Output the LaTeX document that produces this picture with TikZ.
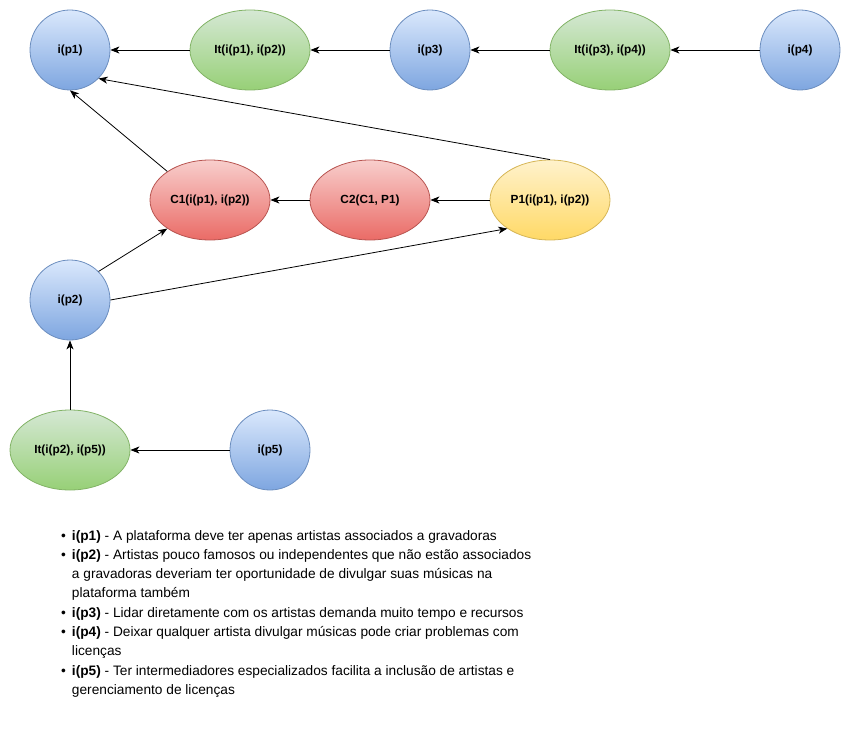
\documentclass[tikz,border=0pt]{standalone}
\usepackage{fontspec}
\setmainfont{Liberation Sans}
\usetikzlibrary{shapes.geometric,arrows.meta}

% fill and line colours of the nodes
\definecolor{bluetop}{HTML}{DAE8FC}
\definecolor{bluebot}{HTML}{7EA6E0}
\definecolor{blueline}{HTML}{6C8EBF}
\definecolor{greentop}{HTML}{D5E8D4}
\definecolor{greenbot}{HTML}{97D077}
\definecolor{greenline}{HTML}{82B366}
\definecolor{redtop}{HTML}{F8CECC}
\definecolor{redbot}{HTML}{EA6B66}
\definecolor{redline}{HTML}{B85450}
\definecolor{yellowtop}{HTML}{FFF2CC}
\definecolor{yellowbot}{HTML}{FFD966}
\definecolor{yellowline}{HTML}{D6B656}

\begin{document}
\begin{tikzpicture}[x=1pt,y=-1pt,
  label font/.style={font=\bfseries\fontsize{11.8}{14}\selectfont},
  idea/.style={circle,draw=blueline,top color=bluetop,bottom color=bluebot,
    minimum size=80pt,inner sep=0pt,line width=0.8pt,label font},
  oval/.style={ellipse,minimum width=120pt,minimum height=80pt,inner sep=0pt,
    line width=0.8pt,label font},
  issue/.style={oval,draw=greenline,top color=greentop,bottom color=greenbot},
  con/.style={oval,draw=redline,top color=redtop,bottom color=redbot},
  pro/.style={oval,draw=yellowline,top color=yellowtop,bottom color=yellowbot},
  link/.style={-{Stealth[length=9pt,width=7pt,inset=2.5pt]},line width=0.8pt}]
\useasboundingbox (0,0) rectangle (851,741);

% top row
\node[idea] (p1) at (70,50) {i(p1)};
\node[issue] (it12) at (250,50) {It(i(p1), i(p2))};
\node[idea] (p3) at (430,50) {i(p3)};
\node[issue] (it34) at (610,50) {It(i(p3), i(p4))};
\node[idea] (p4) at (800,50) {i(p4)};

% middle row
\node[con] (c1) at (210,200) {C1(i(p1), i(p2))};
\node[con] (c2) at (370,200) {C2(C1, P1)};
\node[pro] (pp1) at (550,200) {P1(i(p1), i(p2))};
\node[idea] (p2) at (70,300) {i(p2)};

% bottom row
\node[issue] (it25) at (70,450) {It(i(p2), i(p5))};
\node[idea] (p5) at (270,450) {i(p5)};

% connectors
\draw[link] (it12) -- (p1);
\draw[link] (p3) -- (it12);
\draw[link] (it34) -- (p3);
\draw[link] (p4) -- (it34);
\draw[link] (c1.north west) -- (p1.south);
\draw[link] (pp1.north) -- (p1.south east);
\draw[link] (c2) -- (c1);
\draw[link] (pp1) -- (c2);
\draw[link] (p2.north east) -- (c1.south west);
\draw[link] (p2.east) -- (pp1.south west);
\draw[link] (it25) -- (p2);
\draw[link] (p5) -- (it25);

% list of the ideas
\node[anchor=base west,inner sep=0pt,font=\fontsize{13.7}{19.3}\selectfont] (notes) at (61,540)
{\begin{tabular}[t]{@{}c@{\hspace{6pt}}l@{}}
\textbullet & \textbf{i(p1)} - A plataforma deve ter apenas artistas associados a gravadoras\\
\textbullet & \textbf{i(p2)} - Artistas pouco famosos ou independentes que não estão associados\\
 & a gravadoras deveriam ter oportunidade de divulgar suas músicas na\\
 & plataforma também\\
\textbullet & \textbf{i(p3)} - Lidar diretamente com os artistas demanda muito tempo e recursos\\
\textbullet & \textbf{i(p4)} - Deixar qualquer artista divulgar músicas pode criar problemas com\\
 & licenças\\
\textbullet & \textbf{i(p5)} - Ter intermediadores especializados facilita a inclusão de artistas e\\
 & gerenciamento de licenças
\end{tabular}};
\end{tikzpicture}
\end{document}
